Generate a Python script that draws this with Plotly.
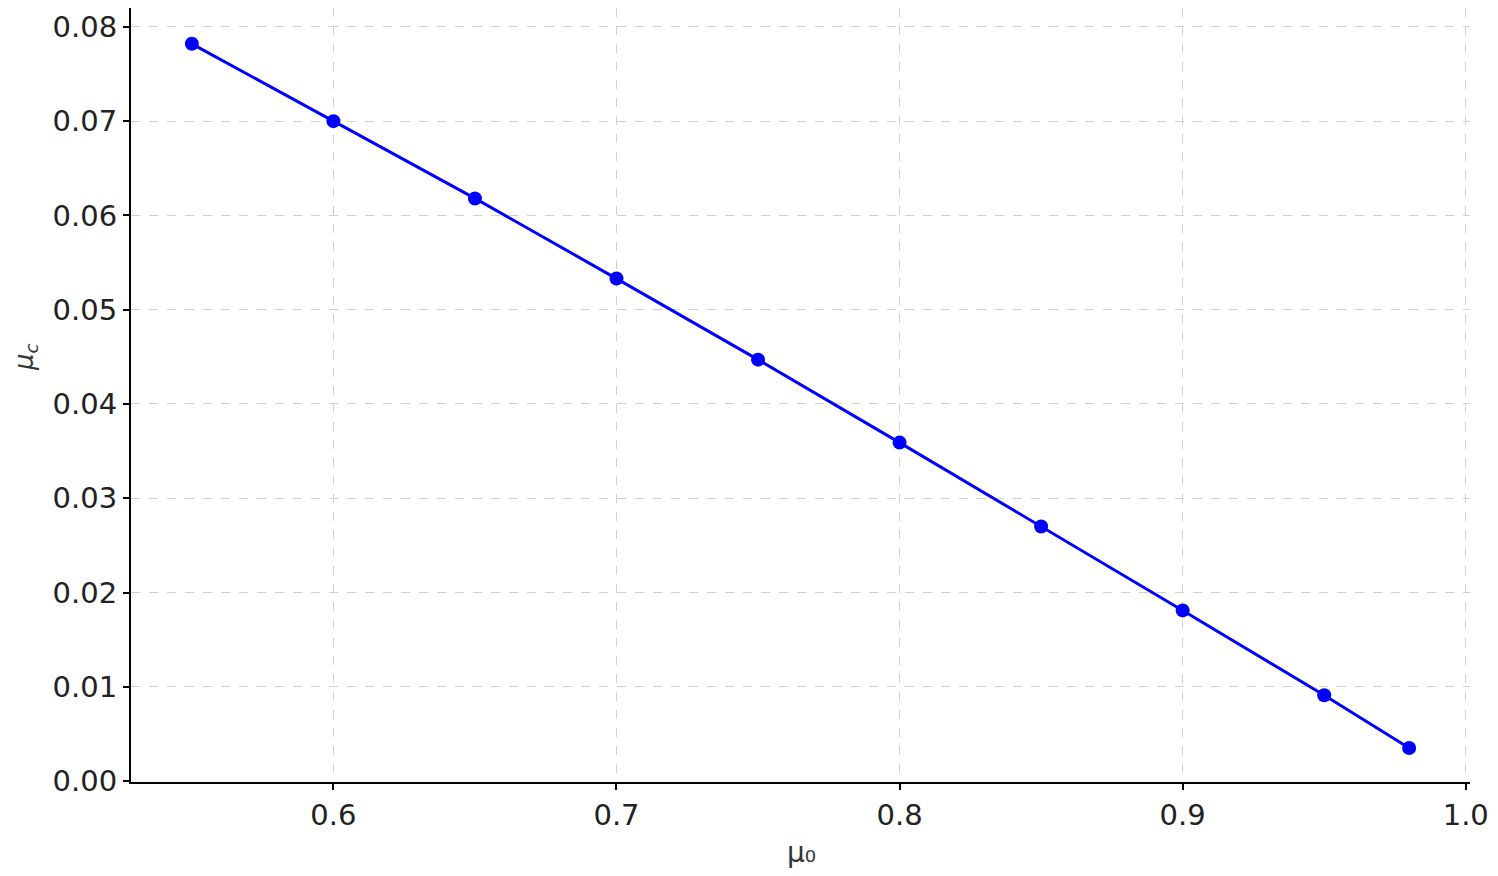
import plotly.graph_objects as go

mu0 = [0.55, 0.60, 0.65, 0.70, 0.75, 0.80, 0.85, 0.90, 0.95, 0.98]
mu_c = [0.0782, 0.0700, 0.0618, 0.0533, 0.0447, 0.0359, 0.0270, 0.0181, 0.0091, 0.0035]

x_ticks = [0.6, 0.7, 0.8, 0.9, 1.0]
y_ticks = [0.00, 0.01, 0.02, 0.03, 0.04, 0.05, 0.06, 0.07, 0.08]

BLUE = "#0000ff"
FONT = "DejaVu Sans"

fig = go.Figure()
fig.add_trace(go.Scatter(
    x=mu0, y=mu_c,
    mode="lines+markers",
    line=dict(color=BLUE, width=3),
    marker=dict(color=BLUE, size=14),
    showlegend=False,
))

axis_common = dict(
    showline=True, linecolor="black", linewidth=2,
    ticks="outside", ticklen=6, tickwidth=2, tickcolor="black",
    showgrid=True, gridcolor="#d0d0d0", griddash="dash", gridwidth=1,
    zeroline=False, mirror=False,
    tickfont=dict(family=FONT, size=29, color="#222"),
)

fig.update_xaxes(
    range=[0.5285, 1.0015], tickvals=x_ticks,
    ticktext=[f"{v:.1f}" for v in x_ticks],
    **axis_common,
)
fig.update_yaxes(
    range=[-0.0001, 0.0820], tickvals=y_ticks,
    ticktext=[f"{v:.2f}" for v in y_ticks],
    **axis_common,
)

# 축 제목은 주석으로 배치(위치를 원본에 맞추기 위함)
fig.add_annotation(
    text="μ₀", xref="paper", yref="paper", x=0.5004, y=0,
    xanchor="center", yanchor="middle", yshift=-70, showarrow=False,
    font=dict(family=FONT, size=28, color="#333"),
)
fig.add_annotation(
    text="<i>μ<sub>c</sub></i>", xref="paper", yref="paper", x=0, y=0.549,
    xanchor="center", yanchor="middle", xshift=-106, textangle=-90, showarrow=False,
    font=dict(family=FONT, size=26, color="#333"),
)

# 페이지 body 기본 여백(8px)을 감안해 그림 크기를 조금 줄임
fig.update_layout(
    width=1482, height=860,
    template="plotly_white",
    plot_bgcolor="white", paper_bgcolor="white",
    margin=dict(l=123, r=20, t=0, b=86),
)

fig.write_html("out.html")
